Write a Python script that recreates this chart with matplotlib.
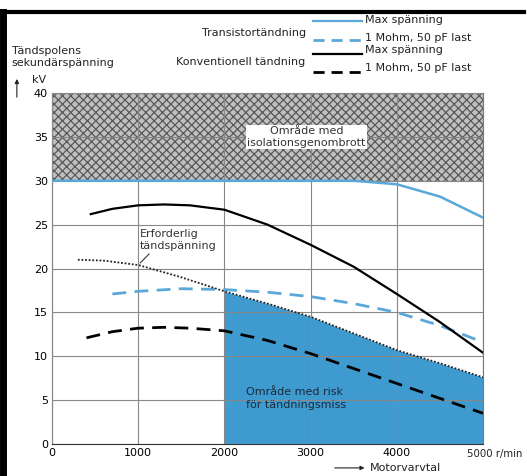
import numpy as np
import matplotlib.pyplot as plt
from matplotlib.patches import Rectangle

plt.rcParams['font.family'] = ['DejaVu Sans']
plt.rcParams['hatch.linewidth'] = 0.9
FS = 8

# data (rpm, kV)
tr_max_x = [0, 1000, 2000, 3000, 3500, 4000, 4500, 5000]
tr_max_y = [30, 30, 30, 30, 30, 29.6, 28.2, 25.8]
tr_last_x = [700, 1000, 1500, 2000, 2500, 3000, 3500, 4000, 4500, 5000]
tr_last_y = [17.1, 17.4, 17.7, 17.6, 17.3, 16.8, 16.0, 15.0, 13.5, 11.6]
kv_max_x = [450, 700, 1000, 1300, 1600, 2000, 2500, 3000, 3500, 4000, 4500, 5000]
kv_max_y = [26.2, 26.8, 27.2, 27.3, 27.2, 26.7, 25.0, 22.7, 20.2, 17.1, 13.9, 10.4]
kv_last_x = [400, 700, 1000, 1300, 1600, 2000, 2500, 3000, 3500, 4000, 4500, 5000]
kv_last_y = [12.1, 12.8, 13.2, 13.3, 13.2, 12.9, 11.8, 10.3, 8.6, 6.9, 5.2, 3.5]
req_x = [300, 600, 1000, 1500, 2000, 2500, 3000, 3500, 4000, 4500, 5000]
req_y = [21.0, 20.9, 20.4, 19.0, 17.4, 16.0, 14.5, 12.6, 10.7, 9.2, 7.6]

xticks = [0, 1000, 2000, 3000, 4000, 5000]
xticklabels = ['0', '1000', '2000', '3000', '4000', '']
yticks = [0, 5, 10, 15, 20, 25, 30, 35, 40]

blue = '#5aa8d8'
fill_blue = '#3f9bcf'

fig = plt.figure(figsize=(5.27, 4.76), dpi=100)
ax = fig.add_axes([0.0987, 0.0672, 0.8178, 0.7374])
ax.set_xlim(0, 5000)
ax.set_ylim(0, 40)

# isolation breakdown area
ax.add_patch(Rectangle((0, 30), 5000, 10, facecolor='#c0c0c0', edgecolor='#585858',
                       hatch='xxxx', lw=0, zorder=1))

# misfire risk area
rx = np.array(req_x)
ry = np.array(req_y)
m = rx >= 2000
ax.fill_between(rx[m], 0, ry[m], color=fill_blue, lw=0, zorder=1)

ax.set_xticks(xticks)
ax.set_yticks(yticks)
ax.grid(True, color='#888888', lw=0.8, zorder=2)
ax.set_axisbelow(False)
for s in ax.spines.values():
    s.set_color('#777777')
    s.set_linewidth(0.8)
ax.spines['bottom'].set_color('#333333')
ax.spines['left'].set_color('#333333')
ax.set_xticklabels(xticklabels, fontsize=FS)
ax.set_yticklabels([str(v) for v in yticks], fontsize=FS)
ax.tick_params(length=0, pad=3)
ax.text(4810, -0.6, '5000 r/min', fontsize=7.3, va='top', ha='left',
        color='#222222', clip_on=False)

ax.plot(tr_max_x, tr_max_y, color=blue, lw=1.8, zorder=4)
ax.plot(tr_last_x, tr_last_y, color=blue, lw=2.0, dashes=(5, 3), zorder=4)
ax.plot(kv_max_x, kv_max_y, color='black', lw=1.6, zorder=4)
ax.plot(kv_last_x, kv_last_y, color='black', lw=2.0, dashes=(5, 3), zorder=4)
ax.plot(req_x, req_y, color='#222222', lw=1.3, ls=(0, (1, 1)), zorder=4)

ax.text(2950, 35, 'Område med\nisolationsgenombrott', fontsize=FS, ha='center',
        va='center', color='#333333', linespacing=1.25,
        bbox=dict(facecolor='white', edgecolor='none', pad=1), zorder=5)
ax.text(1020, 23.2, 'Erforderlig\ntändspänning', fontsize=FS, color='#333333',
        va='center', linespacing=1.25, zorder=5)
ax.annotate('', xy=(1000, 20.4), xytext=(1150, 21.9),
            arrowprops=dict(arrowstyle='-', color='#333333', lw=0.8), zorder=5)
ax.text(2250, 5.2, 'Område med risk\nför tändningsmiss', fontsize=FS, color='#1a2a3a',
        va='center', linespacing=1.35, zorder=5)

# axis titles
fig.text(0.022, 0.881, 'Tändspolens\nsekundärspänning', fontsize=FS, va='center',
         linespacing=1.25, color='#222222')
fig.text(0.06, 0.832, 'kV', fontsize=FS, va='center', color='#222222')
ax.annotate('', xy=(0.032, 0.84), xytext=(0.032, 0.79), xycoords='figure fraction',
            annotation_clip=False,
            arrowprops=dict(arrowstyle='-|>', color='#222222', lw=0.8, mutation_scale=6))
fig.text(0.702, 0.017, 'Motorvarvtal', fontsize=FS, va='center', color='#222222')
ax.annotate('', xy=(0.697, 0.017), xytext=(0.63, 0.017), xycoords='figure fraction',
            annotation_clip=False,
            arrowprops=dict(arrowstyle='-|>', color='#222222', lw=0.8, mutation_scale=6))

# legend
fig.text(0.58, 0.93, 'Transistortändning', fontsize=FS, ha='right', va='center', color='#222222')
fig.text(0.58, 0.87, 'Konventionell tändning', fontsize=FS, ha='right', va='center', color='#222222')
leg = [(0.956, 0.958, blue, '-', 'Max spänning'),
       (0.916, 0.92, blue, '--', '1 Mohm, 50 pF last'),
       (0.887, 0.895, 'black', '-', 'Max spänning'),
       (0.849, 0.857, 'black', '--', '1 Mohm, 50 pF last')]
for yy, ty, c, ls, lab in leg:
    if ls == '-':
        fig.add_artist(plt.Line2D([0.594, 0.687], [yy, yy], color=c, lw=1.6))
    else:
        fig.add_artist(plt.Line2D([0.594, 0.687], [yy, yy], color=c, lw=2.0, dashes=(4, 2.5)))
    fig.text(0.693, ty, lab, fontsize=FS, va='center', color='#222222')

# outer frame
fig.add_artist(plt.Line2D([0.005, 0.995], [0.975, 0.975], color='black', lw=3))
fig.add_artist(plt.Line2D([0.006, 0.006], [0.0, 0.975], color='black', lw=5))

fig.savefig('out.png', dpi=100)
